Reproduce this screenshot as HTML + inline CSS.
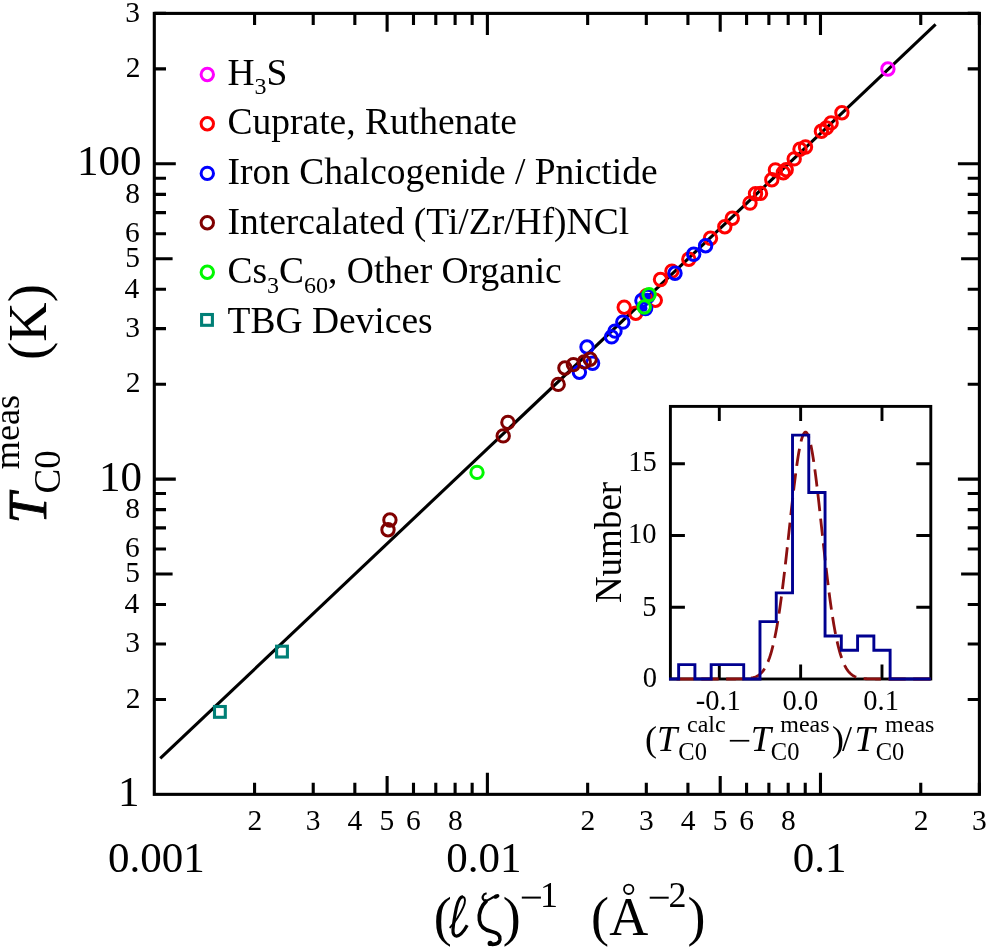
<!DOCTYPE html>
<html><head><meta charset="utf-8"><style>
html,body{margin:0;padding:0;background:#fff;}
svg{display:block;will-change:transform;}
</style></head><body>
<svg width="986" height="949" viewBox="0 0 986 949" font-family="Liberation Serif">
<rect width="986" height="949" fill="#fff"/>
<path d="M154.3 699.45h11.7M979.4 699.45h-11.7M154.3 643.93h11.7M979.4 643.93h-11.7M154.3 604.54h11.7M979.4 604.54h-11.7M154.3 573.99h18.3M979.4 573.99h-18.3M154.3 549.03h11.7M979.4 549.03h-11.7M154.3 527.92h11.7M979.4 527.92h-11.7M154.3 509.64h11.7M979.4 509.64h-11.7M154.3 493.51h11.7M979.4 493.51h-11.7M154.3 479.08h21.5M979.4 479.08h-21.5M154.3 384.18h11.7M979.4 384.18h-11.7M154.3 328.67h11.7M979.4 328.67h-11.7M154.3 289.28h11.7M979.4 289.28h-11.7M154.3 258.72h18.3M979.4 258.72h-18.3M154.3 233.76h11.7M979.4 233.76h-11.7M154.3 212.65h11.7M979.4 212.65h-11.7M154.3 194.37h11.7M979.4 194.37h-11.7M154.3 178.25h11.7M979.4 178.25h-11.7M154.3 163.82h21.5M979.4 163.82h-21.5M154.3 68.92h11.7M979.4 68.92h-11.7M154.3 13.4h11.7M979.4 13.4h-11.7M254.57 794.35v-11.7M254.57 13.4v11.7M313.22 794.35v-11.7M313.22 13.4v11.7M354.84 794.35v-11.7M354.84 13.4v11.7M387.12 794.35v-18.3M387.12 13.4v18.3M413.49 794.35v-11.7M413.49 13.4v11.7M435.79 794.35v-11.7M435.79 13.4v11.7M455.11 794.35v-11.7M455.11 13.4v11.7M472.15 794.35v-11.7M472.15 13.4v11.7M487.39 794.35v-21.5M487.39 13.4v21.5M587.66 794.35v-11.7M587.66 13.4v11.7M646.31 794.35v-11.7M646.31 13.4v11.7M687.93 794.35v-11.7M687.93 13.4v11.7M720.21 794.35v-18.3M720.21 13.4v18.3M746.58 794.35v-11.7M746.58 13.4v11.7M768.88 794.35v-11.7M768.88 13.4v11.7M788.2 794.35v-11.7M788.2 13.4v11.7M805.24 794.35v-11.7M805.24 13.4v11.7M820.48 794.35v-21.5M820.48 13.4v21.5M920.75 794.35v-11.7M920.75 13.4v11.7M979.4 794.35v-11.7M979.4 13.4v11.7" stroke="#000" stroke-width="3.1" fill="none"/>
<line x1="160.25" y1="758.45" x2="935.6" y2="24.45" stroke="#000" stroke-width="3.1"/>
<circle cx="887.9" cy="69" r="6.2" fill="none" stroke="#ff00ff" stroke-width="3.0"/>
<circle cx="624.2" cy="307.2" r="6.2" fill="none" stroke="#ff0000" stroke-width="3.0"/>
<circle cx="635.8" cy="313.2" r="6.2" fill="none" stroke="#ff0000" stroke-width="3.0"/>
<circle cx="646.6" cy="295.6" r="6.2" fill="none" stroke="#ff0000" stroke-width="3.0"/>
<circle cx="655.3" cy="300.2" r="6.2" fill="none" stroke="#ff0000" stroke-width="3.0"/>
<circle cx="660.5" cy="279.5" r="6.2" fill="none" stroke="#ff0000" stroke-width="3.0"/>
<circle cx="671.9" cy="271.1" r="6.2" fill="none" stroke="#ff0000" stroke-width="3.0"/>
<circle cx="688.8" cy="259.3" r="6.2" fill="none" stroke="#ff0000" stroke-width="3.0"/>
<circle cx="710.5" cy="238.2" r="6.2" fill="none" stroke="#ff0000" stroke-width="3.0"/>
<circle cx="724.8" cy="226.8" r="6.2" fill="none" stroke="#ff0000" stroke-width="3.0"/>
<circle cx="732.3" cy="218.3" r="6.2" fill="none" stroke="#ff0000" stroke-width="3.0"/>
<circle cx="750" cy="203.1" r="6.2" fill="none" stroke="#ff0000" stroke-width="3.0"/>
<circle cx="755.5" cy="193.8" r="6.2" fill="none" stroke="#ff0000" stroke-width="3.0"/>
<circle cx="760.5" cy="193.4" r="6.2" fill="none" stroke="#ff0000" stroke-width="3.0"/>
<circle cx="771.8" cy="179.8" r="6.2" fill="none" stroke="#ff0000" stroke-width="3.0"/>
<circle cx="775.4" cy="169.9" r="6.2" fill="none" stroke="#ff0000" stroke-width="3.0"/>
<circle cx="783.3" cy="172.8" r="6.2" fill="none" stroke="#ff0000" stroke-width="3.0"/>
<circle cx="786.2" cy="169.8" r="6.2" fill="none" stroke="#ff0000" stroke-width="3.0"/>
<circle cx="794.2" cy="158.9" r="6.2" fill="none" stroke="#ff0000" stroke-width="3.0"/>
<circle cx="800" cy="149.2" r="6.2" fill="none" stroke="#ff0000" stroke-width="3.0"/>
<circle cx="805.5" cy="147" r="6.2" fill="none" stroke="#ff0000" stroke-width="3.0"/>
<circle cx="821.4" cy="131.3" r="6.2" fill="none" stroke="#ff0000" stroke-width="3.0"/>
<circle cx="826.4" cy="127.9" r="6.2" fill="none" stroke="#ff0000" stroke-width="3.0"/>
<circle cx="831.1" cy="122.9" r="6.2" fill="none" stroke="#ff0000" stroke-width="3.0"/>
<circle cx="841.9" cy="112.8" r="6.2" fill="none" stroke="#ff0000" stroke-width="3.0"/>
<circle cx="579.4" cy="372.3" r="6.2" fill="none" stroke="#0000ff" stroke-width="3.0"/>
<circle cx="587" cy="347" r="6.2" fill="none" stroke="#0000ff" stroke-width="3.0"/>
<circle cx="592.6" cy="363.2" r="6.2" fill="none" stroke="#0000ff" stroke-width="3.0"/>
<circle cx="611.6" cy="336.9" r="6.2" fill="none" stroke="#0000ff" stroke-width="3.0"/>
<circle cx="615" cy="331.1" r="6.2" fill="none" stroke="#0000ff" stroke-width="3.0"/>
<circle cx="622.8" cy="322.1" r="6.2" fill="none" stroke="#0000ff" stroke-width="3.0"/>
<circle cx="641.9" cy="300.5" r="6.2" fill="none" stroke="#0000ff" stroke-width="3.0"/>
<circle cx="647.8" cy="296.5" r="6.2" fill="none" stroke="#0000ff" stroke-width="3.0"/>
<circle cx="645.6" cy="308.6" r="6.2" fill="none" stroke="#0000ff" stroke-width="3.0"/>
<circle cx="675" cy="273.2" r="6.2" fill="none" stroke="#0000ff" stroke-width="3.0"/>
<circle cx="693.7" cy="254.3" r="6.2" fill="none" stroke="#0000ff" stroke-width="3.0"/>
<circle cx="705.6" cy="245.8" r="6.2" fill="none" stroke="#0000ff" stroke-width="3.0"/>
<circle cx="389.9" cy="520" r="6.2" fill="none" stroke="#800000" stroke-width="3.0"/>
<circle cx="388" cy="529.8" r="6.2" fill="none" stroke="#800000" stroke-width="3.0"/>
<circle cx="507.9" cy="422.4" r="6.2" fill="none" stroke="#800000" stroke-width="3.0"/>
<circle cx="503.2" cy="435.9" r="6.2" fill="none" stroke="#800000" stroke-width="3.0"/>
<circle cx="558.2" cy="384.4" r="6.2" fill="none" stroke="#800000" stroke-width="3.0"/>
<circle cx="564.9" cy="368" r="6.2" fill="none" stroke="#800000" stroke-width="3.0"/>
<circle cx="573.4" cy="364.6" r="6.2" fill="none" stroke="#800000" stroke-width="3.0"/>
<circle cx="584.2" cy="361.9" r="6.2" fill="none" stroke="#800000" stroke-width="3.0"/>
<circle cx="590.1" cy="359.3" r="6.2" fill="none" stroke="#800000" stroke-width="3.0"/>
<circle cx="647.2" cy="296.2" r="3.5" fill="#0000ff"/><circle cx="643.9" cy="308.2" r="3.5" fill="#0000ff"/>
<circle cx="477" cy="472.4" r="6.2" fill="none" stroke="#00f800" stroke-width="3.0"/>
<circle cx="649.1" cy="294.6" r="6.2" fill="none" stroke="#00f800" stroke-width="3.0"/>
<circle cx="644.2" cy="307" r="6.2" fill="none" stroke="#00f800" stroke-width="3.0"/>
<rect x="214.5" y="706.5" width="10.8" height="10.8" fill="none" stroke="#007f76" stroke-width="3.1"/>
<rect x="276.6" y="646.2" width="10.8" height="10.8" fill="none" stroke="#007f76" stroke-width="3.1"/>
<rect x="154.3" y="13.4" width="825.1" height="780.95" fill="none" stroke="#000" stroke-width="3.1"/>
<g fill="#000"><text x="76.9" y="175.3" font-size="43">100</text><text x="98.9" y="490.8" font-size="43">10</text><text x="117.9" y="806" font-size="43">1</text><text x="125.75" y="707.75" font-size="29.5">2</text><text x="125.25" y="652.23" font-size="29.5">3</text><text x="124.55" y="612.84" font-size="29.5">4</text><text x="125.25" y="582.29" font-size="29.5">5</text><text x="124.95" y="557.33" font-size="29.5">6</text><text x="125.25" y="517.94" font-size="29.5">8</text><text x="125.75" y="392.48" font-size="29.5">2</text><text x="125.25" y="336.97" font-size="29.5">3</text><text x="124.55" y="297.58" font-size="29.5">4</text><text x="125.25" y="267.02" font-size="29.5">5</text><text x="124.95" y="242.06" font-size="29.5">6</text><text x="125.25" y="202.67" font-size="29.5">8</text><text x="125.75" y="77.22" font-size="29.5">2</text><text x="125.25" y="21.7" font-size="29.5">3</text><text x="108.1" y="872.2" font-size="43">0.001</text><text x="446.2" y="872.2" font-size="43">0.01</text><text x="792.7" y="872.2" font-size="43">0.1</text><text x="247.52" y="830.2" font-size="29.5">2</text><text x="305.87" y="830.2" font-size="29.5">3</text><text x="347.54" y="830.2" font-size="29.5">4</text><text x="379.62" y="830.2" font-size="29.5">5</text><text x="406.04" y="830.2" font-size="29.5">6</text><text x="447.91" y="830.2" font-size="29.5">8</text><text x="580.61" y="830.2" font-size="29.5">2</text><text x="638.96" y="830.2" font-size="29.5">3</text><text x="680.63" y="830.2" font-size="29.5">4</text><text x="712.71" y="830.2" font-size="29.5">5</text><text x="739.13" y="830.2" font-size="29.5">6</text><text x="781" y="830.2" font-size="29.5">8</text><text x="913.7" y="830.2" font-size="29.5">2</text><text x="972.05" y="830.2" font-size="29.5">3</text></g>
<g fill="#000"><text x="227.5" y="84.7" font-size="37.5">H</text><text x="254.58" y="94.1" font-size="24">3</text><text x="266.58" y="84.7" font-size="37.5">S</text><text x="227.5" y="134.3" font-size="37.5">Cuprate, Ruthenate</text><text x="227.5" y="183.9" font-size="37.5">Iron Chalcogenide / Pnictide</text><text x="227.5" y="233.5" font-size="37.5">Intercalated (Ti/Zr/Hf)NCl</text><text x="227.5" y="283.1" font-size="37.5">Cs</text><text x="267.11" y="292.5" font-size="24">3</text><text x="279.11" y="283.1" font-size="37.5">C</text><text x="304.12" y="292.5" font-size="24">60</text><text x="328.12" y="283.1" font-size="37.5">, Other Organic</text><text x="227.5" y="332.7" font-size="37.5">TBG Devices</text></g>
<circle cx="207.3" cy="74.5" r="6.2" fill="none" stroke="#ff00ff" stroke-width="3.0"/>
<circle cx="207.3" cy="123.7" r="6.2" fill="none" stroke="#ff0000" stroke-width="3.0"/>
<circle cx="207.3" cy="173.4" r="6.2" fill="none" stroke="#0000ff" stroke-width="3.0"/>
<circle cx="207.3" cy="222.8" r="6.2" fill="none" stroke="#800000" stroke-width="3.0"/>
<circle cx="207.3" cy="272.2" r="6.2" fill="none" stroke="#00f800" stroke-width="3.0"/>
<rect x="201.6" y="314.5" width="10.8" height="10.8" fill="none" stroke="#007f76" stroke-width="3.1"/>
<g fill="#000"><text stroke="#000" stroke-width="0.9" transform="translate(45.8,523.45) rotate(-90)" font-size="54.5" font-style="italic">T</text><text transform="translate(60.1,493.4) rotate(-90)" font-size="37">C0</text><text transform="translate(18.8,469.35) rotate(-90)" font-size="36.3">meas</text><text transform="translate(45.6,359.9) rotate(-90)" font-size="54.6">(K)</text><text x="433.7" y="934.5" font-size="54">(</text><path d="M450.2,927.4 C455,922.2 460,914.5 463.3,907.2 C465.6,902 465.6,897.6 462.8,896.6" fill="none" stroke="#000" stroke-width="1.9" stroke-linecap="round"/><path d="M462.8,896.6 C459.6,897 457.6,902 456.3,908 C454.7,916 453.4,924 453,929.5 C452.7,934 454.2,936.2 456.6,936.1 C459.9,935.9 463.6,931.8 467.2,925.3" fill="none" stroke="#000" stroke-width="3.2"/><path d="M486.9,900.4 C481.2,906 478.6,913.5 479.4,920.3 C480.2,926.6 484.5,930.2 491.6,931.6 C497.6,932.8 500.6,935.6 499.9,939.6 C499.2,943 495.6,944.6 491.2,944.3" fill="none" stroke="#000" stroke-width="3.6"/><path d="M486.6,893.3 C482.6,894.2 481.3,898.2 484.2,900.3 C486.5,902 490,898.7 494,896.8" fill="none" stroke="#000" stroke-width="2.2"/><ellipse cx="496.3" cy="896.4" rx="3.2" ry="2.1" transform="rotate(-25 496.3 896.4)" fill="#000"/><circle cx="490.2" cy="943.4" r="2.6" fill="#000"/><text x="502.8" y="934.5" font-size="54">)</text><rect x="521.8" y="896.6" width="19.1" height="2.0" fill="#000"/><text x="540.1" y="907" font-size="36">1</text><text x="591.1" y="934.5" font-size="54">(</text><text x="609.3" y="934.6" font-size="54">A</text><circle cx="628.7" cy="889.3" r="4.7" fill="none" stroke="#000" stroke-width="1.8"/><rect x="649.7" y="896.7" width="19.0" height="2.0" fill="#000"/><text x="668.6" y="906.9" font-size="36">2</text><text x="687.6" y="934.5" font-size="54">)</text></g>
<rect x="670.4" y="406.4" width="260.4" height="272.6" fill="#fff" stroke="none"/>
<path d="M670.4 607.26h14.5M930.8 607.26h-14.5M670.4 535.53h14.5M930.8 535.53h-14.5M670.4 463.79h14.5M930.8 463.79h-14.5M719.31 679.0v-14.5M719.31 406.4v14.5M800.65 679.0v-14.5M800.65 406.4v14.5M881.99 679.0v-14.5M881.99 406.4v14.5" stroke="#000" stroke-width="2.9" fill="none"/>
<rect x="670.4" y="406.4" width="260.4" height="272.6" fill="none" stroke="#000" stroke-width="2.9"/>
<polyline points="670.51,679.00 671.16,679.00 671.81,679.00 672.46,679.00 673.11,679.00 673.76,679.00 674.41,679.00 675.06,679.00 675.71,679.00 676.36,679.00 677.01,679.00 677.66,679.00 678.31,679.00 678.97,679.00 679.62,679.00 680.27,679.00 680.92,679.00 681.57,679.00 682.22,679.00 682.87,679.00 683.52,679.00 684.17,679.00 684.82,679.00 685.47,679.00 686.12,679.00 686.77,679.00 687.42,679.00 688.08,679.00 688.73,679.00 689.38,679.00 690.03,679.00 690.68,679.00 691.33,679.00 691.98,679.00 692.63,679.00 693.28,679.00 693.93,679.00 694.58,679.00 695.23,679.00 695.88,679.00 696.53,679.00 697.19,679.00 697.84,679.00 698.49,679.00 699.14,679.00 699.79,679.00 700.44,679.00 701.09,679.00 701.74,679.00 702.39,679.00 703.04,679.00 703.69,679.00 704.34,679.00 704.99,679.00 705.64,679.00 706.30,679.00 706.95,679.00 707.60,679.00 708.25,679.00 708.90,679.00 709.55,679.00 710.20,679.00 710.85,679.00 711.50,679.00 712.15,679.00 712.80,679.00 713.45,679.00 714.10,679.00 714.75,679.00 715.41,679.00 716.06,679.00 716.71,679.00 717.36,679.00 718.01,679.00 718.66,679.00 719.31,679.00 719.96,679.00 720.61,679.00 721.26,679.00 721.91,679.00 722.56,679.00 723.21,679.00 723.87,679.00 724.52,679.00 725.17,679.00 725.82,679.00 726.47,679.00 727.12,679.00 727.77,679.00 728.42,679.00 729.07,679.00 729.72,679.00 730.37,678.99 731.02,678.99 731.67,678.99 732.32,678.99 732.98,678.99 733.63,678.99 734.28,678.98 734.93,678.98 735.58,678.98 736.23,678.97 736.88,678.97 737.53,678.96 738.18,678.95 738.83,678.94 739.48,678.93 740.13,678.92 740.78,678.91 741.43,678.89 742.09,678.88 742.74,678.86 743.39,678.83 744.04,678.81 744.69,678.77 745.34,678.74 745.99,678.70 746.64,678.65 747.29,678.59 747.94,678.53 748.59,678.46 749.24,678.38 749.89,678.29 750.54,678.18 751.20,678.07 751.85,677.93 752.50,677.79 753.15,677.62 753.80,677.43 754.45,677.22 755.10,676.98 755.75,676.71 756.40,676.42 757.05,676.09 757.70,675.72 758.35,675.32 759.00,674.87 759.65,674.37 760.31,673.82 760.96,673.22 761.61,672.55 762.26,671.82 762.91,671.03 763.56,670.15 764.21,669.20 764.86,668.16 765.51,667.03 766.16,665.80 766.81,664.47 767.46,663.03 768.11,661.48 768.76,659.80 769.42,658.01 770.07,656.07 770.72,654.00 771.37,651.79 772.02,649.43 772.67,646.92 773.32,644.25 773.97,641.41 774.62,638.41 775.27,635.24 775.92,631.90 776.57,628.38 777.22,624.69 777.87,620.82 778.53,616.78 779.18,612.56 779.83,608.17 780.48,603.61 781.13,598.88 781.78,594.00 782.43,588.96 783.08,583.77 783.73,578.45 784.38,573.00 785.03,567.43 785.68,561.75 786.33,555.99 786.98,550.15 787.64,544.24 788.29,538.29 788.94,532.32 789.59,526.33 790.24,520.35 790.89,514.41 791.54,508.51 792.19,502.68 792.84,496.95 793.49,491.33 794.14,485.85 794.79,480.52 795.44,475.38 796.09,470.43 796.75,465.71 797.40,461.22 798.05,457.00 798.70,453.06 799.35,449.41 800.00,446.08 800.65,443.08 801.30,440.43 801.95,438.13 802.60,436.19 803.25,434.63 803.90,433.46 804.55,432.67 805.21,432.27 805.86,432.27 806.51,432.67 807.16,433.46 807.81,434.63 808.46,436.19 809.11,438.13 809.76,440.43 810.41,443.08 811.06,446.08 811.71,449.41 812.36,453.06 813.01,457.00 813.66,461.22 814.32,465.71 814.97,470.43 815.62,475.38 816.27,480.52 816.92,485.85 817.57,491.33 818.22,496.95 818.87,502.68 819.52,508.51 820.17,514.41 820.82,520.35 821.47,526.33 822.12,532.32 822.77,538.29 823.43,544.24 824.08,550.15 824.73,555.99 825.38,561.75 826.03,567.43 826.68,573.00 827.33,578.45 827.98,583.77 828.63,588.96 829.28,594.00 829.93,598.88 830.58,603.61 831.23,608.17 831.88,612.56 832.54,616.78 833.19,620.82 833.84,624.69 834.49,628.38 835.14,631.90 835.79,635.24 836.44,638.41 837.09,641.41 837.74,644.25 838.39,646.92 839.04,649.43 839.69,651.79 840.34,654.00 840.99,656.07 841.65,658.01 842.30,659.80 842.95,661.48 843.60,663.03 844.25,664.47 844.90,665.80 845.55,667.03 846.20,668.16 846.85,669.20 847.50,670.15 848.15,671.03 848.80,671.82 849.45,672.55 850.10,673.22 850.76,673.82 851.41,674.37 852.06,674.87 852.71,675.32 853.36,675.72 854.01,676.09 854.66,676.42 855.31,676.71 855.96,676.98 856.61,677.22 857.26,677.43 857.91,677.62 858.56,677.79 859.21,677.93 859.87,678.07 860.52,678.18 861.17,678.29 861.82,678.38 862.47,678.46 863.12,678.53 863.77,678.59 864.42,678.65 865.07,678.70 865.72,678.74 866.37,678.77 867.02,678.81 867.67,678.83 868.32,678.86 868.98,678.88 869.63,678.89 870.28,678.91 870.93,678.92 871.58,678.93 872.23,678.94 872.88,678.95 873.53,678.96 874.18,678.97 874.83,678.97 875.48,678.98 876.13,678.98 876.78,678.98 877.43,678.99 878.09,678.99 878.74,678.99 879.39,678.99 880.04,678.99 880.69,678.99 881.34,679.00 881.99,679.00 882.64,679.00 883.29,679.00 883.94,679.00 884.59,679.00 885.24,679.00 885.89,679.00 886.55,679.00 887.20,679.00 887.85,679.00 888.50,679.00 889.15,679.00 889.80,679.00 890.45,679.00 891.10,679.00 891.75,679.00 892.40,679.00 893.05,679.00 893.70,679.00 894.35,679.00 895.00,679.00 895.66,679.00 896.31,679.00 896.96,679.00 897.61,679.00 898.26,679.00 898.91,679.00 899.56,679.00 900.21,679.00 900.86,679.00 901.51,679.00 902.16,679.00 902.81,679.00 903.46,679.00 904.11,679.00 904.77,679.00 905.42,679.00 906.07,679.00 906.72,679.00 907.37,679.00 908.02,679.00 908.67,679.00 909.32,679.00 909.97,679.00 910.62,679.00 911.27,679.00 911.92,679.00 912.57,679.00 913.22,679.00 913.88,679.00 914.53,679.00 915.18,679.00 915.83,679.00 916.48,679.00 917.13,679.00 917.78,679.00 918.43,679.00 919.08,679.00 919.73,679.00 920.38,679.00 921.03,679.00 921.68,679.00 922.33,679.00 922.99,679.00 923.64,679.00 924.29,679.00 924.94,679.00 925.59,679.00 926.24,679.00 926.89,679.00 927.54,679.00 928.19,679.00 928.84,679.00 929.49,679.00 930.14,679.00 930.79,679.00" fill="none" stroke="#8b0f0f" stroke-width="2.8" stroke-dasharray="17.3 7.5" stroke-dashoffset="18.8"/>
<path d="M669.0 679.0H678.64V664.65H694.91V679H711.18V664.65H727.44V664.65H743.71V679H759.98V621.61H776.25V592.92H792.52V435.09H808.78V492.48H825.05V635.96H841.32V650.31H857.59V635.96H873.86V650.31H890.12V679.0H930.8" fill="none" stroke="#000090" stroke-width="2.9"/>
<g fill="#000"><text x="642.75" y="687" font-size="28.5">0</text><text x="642.35" y="615.5" font-size="28.5">5</text><text x="628.05" y="543.3" font-size="28.5">10</text><text x="628.15" y="471.3" font-size="28.5">15</text><text x="695.7" y="709.8" font-size="28.5">-0.1</text><text x="782.6" y="709.8" font-size="28.5">0.0</text><text x="863.25" y="709.8" font-size="28.5">0.1</text><text transform="translate(621.3,603.1) rotate(-90)" font-size="37.0">Number</text><text x="644.9" y="750.6" font-size="36">(</text><text x="657.05" y="750.6" font-size="36.5" font-style="italic">T</text><text x="678.35" y="759.8" font-size="24.5">C0</text><text x="687" y="732" font-size="24">calc</text><rect x="729.8" y="739.9" width="19.5" height="1.7" fill="#000"/><text x="750.85" y="750.6" font-size="36.5" font-style="italic">T</text><text x="770.85" y="759.8" font-size="24.5">C0</text><text x="780.3" y="731.8" font-size="24">meas</text><text x="832" y="750.6" font-size="36">)</text><text x="842.1" y="750.6" font-size="36">/</text><text x="854.55" y="750.6" font-size="36.5" font-style="italic">T</text><text x="875.65" y="759.8" font-size="24.5">C0</text><text x="885.1" y="731.8" font-size="24">meas</text></g>
</svg>
</body></html>
